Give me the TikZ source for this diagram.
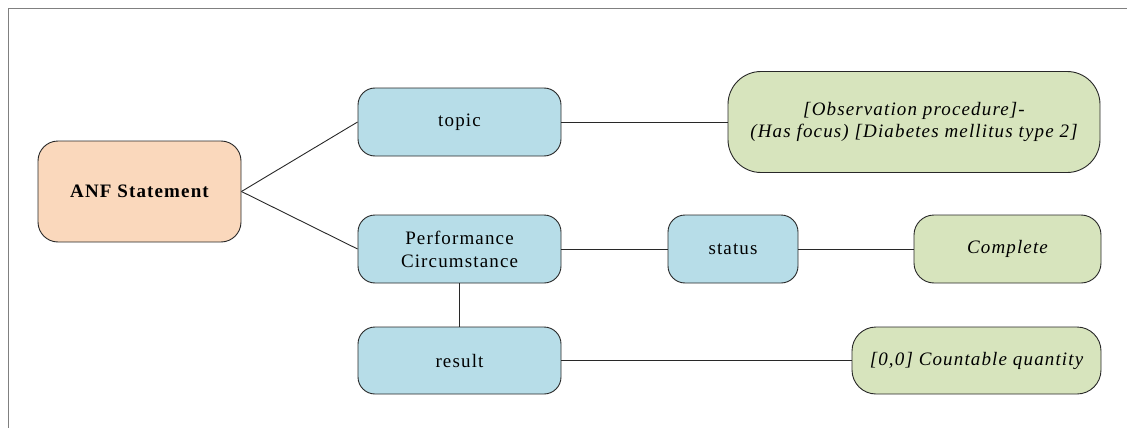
\documentclass[tikz,border=0pt]{standalone}
\usepackage{fontspec}
\setmainfont{Liberation Serif}[LetterSpace=6.0]
\definecolor{anffill}{RGB}{250,216,188}
\definecolor{bluefill}{RGB}{183,221,232}
\definecolor{greenfill}{RGB}{215,228,189}
\definecolor{edgegray}{RGB}{40,40,40}
\definecolor{framegray}{RGB}{128,128,128}
\tikzset{
  box/.style={draw=edgegray, line width=0.9pt, rectangle, inner sep=0pt, align=center,
    font=\fontsize{19}{23}\selectfont},
  anfbox/.style={box, fill=anffill, rounded corners=20pt, font=\fontsize{19}{23}\selectfont\bfseries},
  bluebox/.style={box, fill=bluefill, rounded corners=17pt},
  greenbox/.style={box, fill=greenfill, rounded corners=20pt, font=\fontsize{19}{22}\selectfont\itshape},
  link/.style={draw=edgegray, line width=0.9pt},
}
\begin{document}
\begin{tikzpicture}[x=1pt,y=-1pt]
\useasboundingbox (0,0) rectangle (1127,428);
\coordinate (fa) at (8.5,428);
\coordinate (fb) at (8.5,9);
\coordinate (fc) at (1127,9);
\draw[framegray, line width=1pt] (fa) -- (fb) -- (fc);

\node[anfbox, minimum width=203pt, minimum height=101pt] (anf) at (139.5,191.5) {ANF Statement};
\node[bluebox, minimum width=203pt, minimum height=68pt] (topic) at (459.5,122) {topic};
\node[bluebox, minimum width=203pt, minimum height=68pt] (perf) at (459.5,249) {Performance\\Circumstance};
\node[bluebox, minimum width=203pt, minimum height=67pt] (result) at (459.5,360.5) {result};
\node[bluebox, minimum width=130pt, minimum height=68pt] (status) at (733,249) {status};
\node[greenbox, minimum width=187pt, minimum height=68pt] (complete) at (1007.5,249) {Complete};
\node[greenbox, rounded corners=24pt, minimum width=249pt, minimum height=67pt] (count) at (976.5,360.5) {[0,0] Countable quantity};
\node[greenbox, rounded corners=33pt, minimum width=372pt, minimum height=101pt] (obs) at (914,122) {[Observation procedure]-\\(Has focus) [Diabetes mellitus type 2]};

\draw[link] (anf.east) -- (topic.west);
\draw[link] (anf.east) -- (perf.west);
\draw[link] (topic.east) -- (obs.west);
\draw[link] (perf.east) -- (status.west);
\draw[link] (status.east) -- (complete.west);
\draw[link] (perf.south) -- (result.north);
\draw[link] (result.east) -- (count.west);
\end{tikzpicture}
\end{document}
